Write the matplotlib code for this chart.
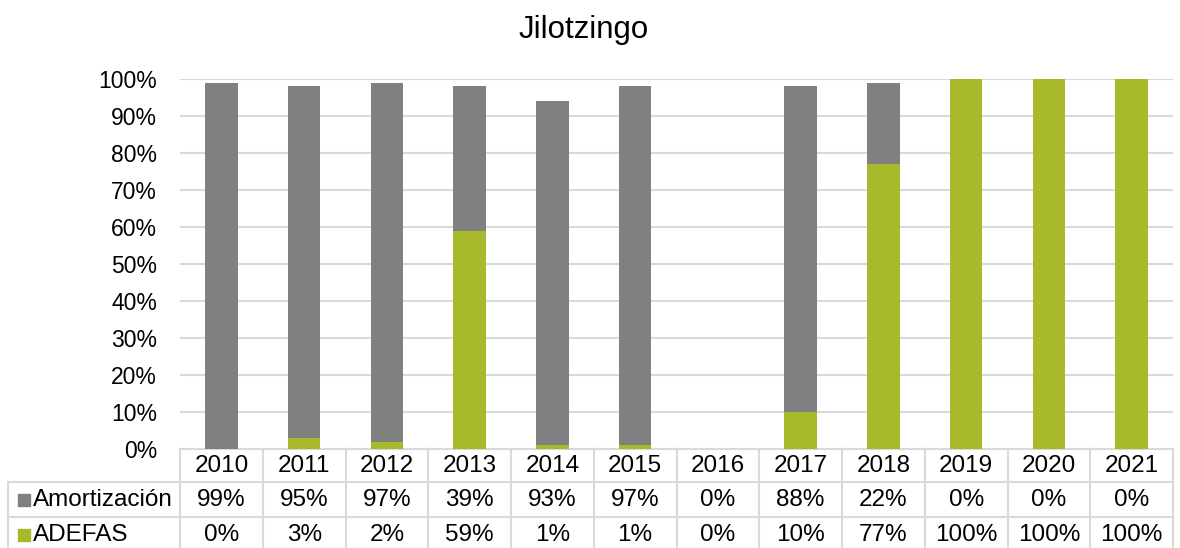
import matplotlib
matplotlib.use("Agg")
import matplotlib.pyplot as plt
from matplotlib.transforms import blended_transform_factory
from matplotlib.ticker import PercentFormatter

plt.rcParams['font.family'] = ['Liberation Sans', 'DejaVu Sans']

title = "Jilotzingo"
years = ["2010", "2011", "2012", "2013", "2014", "2015", "2016", "2017", "2018", "2019", "2020", "2021"]
series_names = ["Amortización", "ADEFAS"]
amortizacion = [99, 95, 97, 39, 93, 97, 0, 88, 22, 0, 0, 0]
adefas = [0, 3, 2, 59, 1, 1, 0, 10, 77, 100, 100, 100]

gray = "#808080"
green = "#A8B92B"
gridc = "#D9D9D9"

W, H = 1180, 548
fig = plt.figure(figsize=(W / 100, H / 100), dpi=100)
ax_l, ax_r, ax_t, ax_b = 180, 1173, 79, 449
ax = fig.add_axes([ax_l / W, 1 - ax_b / H, (ax_r - ax_l) / W, (ax_b - ax_t) / H])

x = list(range(len(years)))
ax.bar(x, adefas, width=0.39, color=green, zorder=3)
ax.bar(x, amortizacion, width=0.39, bottom=adefas, color=gray, zorder=3)

ax.set_xlim(-0.5, len(years) - 0.5)
ax.set_ylim(0, 100)
ax.set_yticks(range(0, 101, 10))
ax.yaxis.set_major_formatter(PercentFormatter(decimals=0))
ax.tick_params(axis='y', length=0, pad=16.5, labelsize=16.5, colors='#000000')
ax.set_xticks([])
ax.grid(axis='y', color=gridc, linewidth=1.5, zorder=0)
for s in ax.spines.values():
    s.set_visible(False)

fig.text(584 / W, 1 - 38 / H, title, ha='center', va='baseline', fontsize=22.5)

# data table below axes
tr = blended_transform_factory(ax.transData, ax.transAxes)
colw = (ax_r - ax_l) / len(years)
axh = ax_b - ax_t
def ay(py):
    return (ax_b - py) / axh
def dx(px):
    return -0.5 + (px - ax_l) / colw

y_top = ay(449)
y_r1 = ay(482)
y_r2 = ay(517)
y_bot = ay(560)
x_left = dx(8)
x_end = len(years) - 0.5
lw = 1.5
kw = dict(color=gridc, linewidth=lw, transform=tr, clip_on=False, zorder=1)
ax.plot([-0.5, x_end], [y_top, y_top], **kw)
ax.plot([x_left, x_end], [y_r1, y_r1], **kw)
ax.plot([x_left, x_end], [y_r2, y_r2], **kw)
ax.plot([x_left, x_left], [y_r1, y_bot], **kw)
for i in range(len(years) + 1):
    xi = -0.5 + i
    ax.plot([xi, xi], [y_top, y_bot], **kw)

fs = 17.5
yc_h = ay(466)
yc_1 = ay(500)
yc_2 = ay(535)
for i, yr in enumerate(years):
    ax.text(i, yc_h, yr, transform=tr, ha='center', va='center', fontsize=fs, clip_on=False)
    ax.text(i, yc_1, f"{amortizacion[i]}%", transform=tr, ha='center', va='center', fontsize=fs, clip_on=False)
    ax.text(i, yc_2, f"{adefas[i]}%", transform=tr, ha='center', va='center', fontsize=fs, clip_on=False)

for yc, name, col in [(yc_1, series_names[0], gray), (yc_2, series_names[1], green)]:
    ax.plot([dx(24)], [yc], marker='s', markersize=8.6, color=col, transform=tr, clip_on=False, linestyle='none')
    ax.text(dx(33), yc, name, transform=tr, ha='left', va='center', fontsize=fs, clip_on=False)

fig.savefig("out.png", dpi=100)
